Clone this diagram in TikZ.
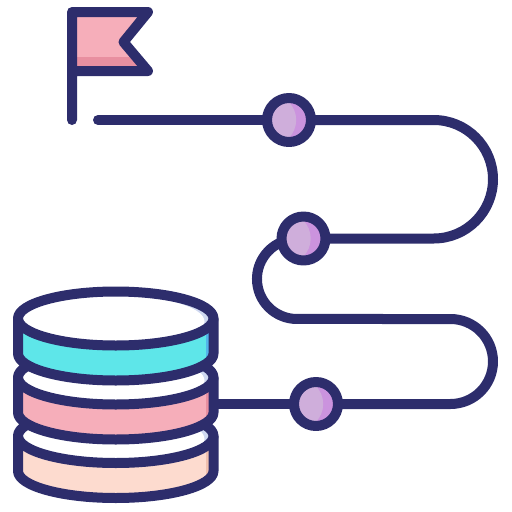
\documentclass[tikz,border=0pt]{standalone}
\usepackage[dvipsnames]{xcolor}
\definecolor{navy}{HTML}{2D2D6C}
\definecolor{aqua}{HTML}{5EE6E9}
\definecolor{aquadark}{HTML}{52B5EA}
\definecolor{rose}{HTML}{F6AEBA}
\definecolor{rosedark}{HTML}{E88FA0}
\definecolor{peach}{HTML}{FDDBCF}
\definecolor{peachdark}{HTML}{F0BFAE}
\definecolor{lilac}{HTML}{CFAEDB}
\definecolor{lilacdark}{HTML}{CB93DE}
\definecolor{haze}{HTML}{CFD8F0}
\begin{document}
\begin{tikzpicture}[x=1pt,y=-1pt,line join=round,line cap=round,
    outline/.style={draw=navy,line width=10pt},
    stop node/.style={circle,outline,fill=lilacdark,inner sep=0pt,outer sep=0pt,minimum size=44pt,
        path picture={\fill[lilac] ([xshift=-18.4pt]path picture bounding box.center) circle (25.6pt);}}]

            \useasboundingbox (0,0) rectangle (512,512);

            % road
            \coordinate (start) at (98,120);
            \coordinate (base) at (213,404);
            \coordinate (bend) at (283.3,241.4);

            \draw[outline] (start) -- (289,120);
            \draw[outline] (289,120) -- (433.75,120) arc[start angle=-90,end angle=90,radius=59.25] -- (303.5,238.5);
            \draw[outline] (bend) arc[start angle=-110,end angle=-180,radius=40]
                arc[start angle=180,end angle=90,radius=40] -- (450.5,319)
                arc[start angle=-90,end angle=90,radius=42.5] -- (316,404);
            \draw[outline] (base) -- (316,404);

            \node[stop node] (stop1) at (289,120) {};
            \node[stop node] (stop2) at (303.5,238.5) {};
            \node[stop node] (stop3) at (316,404) {};

            % flag
            \begin{scope}
                \clip (72,12) -- (148,12) -- (123.5,42) -- (148,71) -- (72,71) -- cycle;
                \fill[rose] (72,12) rectangle (148,71);
                \fill[rosedark] (72,56.5) rectangle (148,71);
            \end{scope}
            \draw[outline] (72,120) -- (72,12) -- (148,12) -- (123.5,42) -- (148,71) -- (72,71);

            % discs, lowest first
            \foreach \cy/\fillc/\sidec in {436/peach/peachdark,377.5/rose/rosedark,318.5/aqua/aquadark}{
                \begin{scope}
                    \clip (18,\cy) -- (18,\cy+35) arc[start angle=180,end angle=0,x radius=97.75,y radius=27] -- (213.5,\cy) -- cycle;
                    \fill[\fillc] (10,\cy-30) rectangle (220,\cy+70);
                    \fill[\sidec] (206,\cy-30) rectangle (220,\cy+70);
                \end{scope}
                \begin{scope}
                    \clip (115.75,\cy) ellipse[x radius=97.75,y radius=27];
                    \fill[haze] (10,\cy-30) rectangle (220,\cy+30);
                    \fill[white] (106.75,\cy+3) ellipse[x radius=97.75,y radius=27];
                \end{scope}
                \draw[outline] (18,\cy) -- (18,\cy+35) arc[start angle=180,end angle=0,x radius=97.75,y radius=27] -- (213.5,\cy);
                \draw[outline] (115.75,\cy) ellipse[x radius=97.75,y radius=27];
            }

            ;
        \end{tikzpicture}
\end{document}
